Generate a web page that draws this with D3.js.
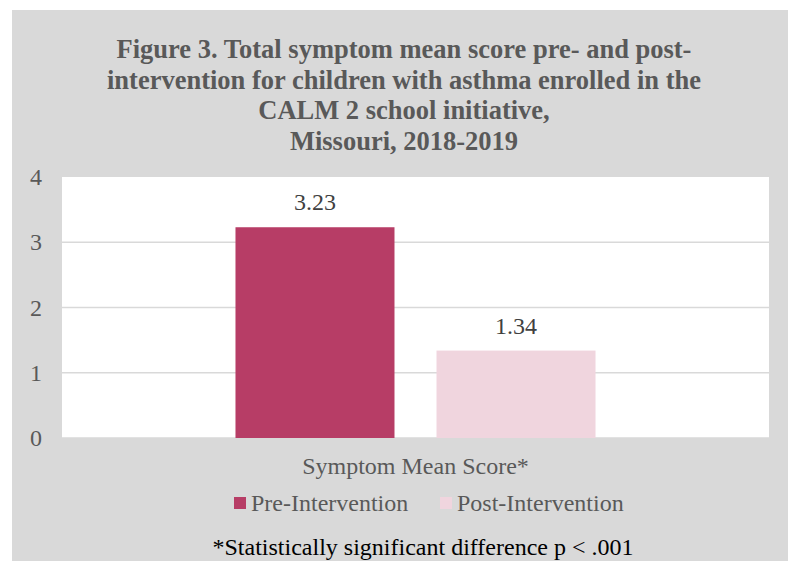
<!DOCTYPE html>
<html>
<head>
<meta charset="utf-8">
<script src="https://cdnjs.cloudflare.com/ajax/libs/d3/7.8.5/d3.min.js"></script>
<style>
  html, body { margin: 0; padding: 0; background: #fff; }
  text { font-family: "Liberation Serif", "Times New Roman", serif; }
</style>
</head>
<body>
<div id="chart"></div>
<script>
// chart data
var titleLines = ["Figure 3. Total symptom mean score pre- and post-",
                  "intervention for children with asthma enrolled in the",
                  "CALM 2 school initiative,",
                  "Missouri, 2018-2019"];
var category = "Symptom Mean Score*";
var series = ["Pre-Intervention", "Post-Intervention"];
var values = [3.23, 1.34];
var colors = ["#b73d66", "#f0d5de"];
var yTicks = [0, 1, 2, 3, 4];
var footnote = "*Statistically significant difference p < .001";

var width = 788, height = 561;
var margin = {top: 177, right: 19, bottom: 123, left: 62};

var svg = d3.select("#chart").append("svg")
    .attr("width", width)
    .attr("height", height);

// grey chart frame
svg.append("rect")
    .attr("x", 12).attr("y", 10)
    .attr("width", width - 12).attr("height", height - 10)
    .style("fill", "#d9d9d9");

var yScale = d3.scaleLinear()
    .domain([0, 4])
    .range([height - margin.bottom, margin.top]);

var xScale = d3.scaleBand()
    .domain(series)
    .range([margin.left, width - margin.right])
    .paddingInner(0.209)
    .paddingOuter(0.863);

// plot area
svg.append("rect")
    .attr("x", margin.left).attr("y", margin.top)
    .attr("width", width - margin.left - margin.right)
    .attr("height", height - margin.top - margin.bottom)
    .style("fill", "#fff");

svg.selectAll(".grid")
    .data(yTicks.slice(0, 4))
   .enter()
    .append("line")
    .attr("class", "grid")
    .attr("x1", margin.left)
    .attr("x2", width - margin.right)
    .attr("y1", function(d) { return yScale(d); })
    .attr("y2", function(d) { return yScale(d); })
    .style("stroke", "#d9d9d9")
    .style("stroke-width", 1.5);

var yAxis = d3.axisLeft(yScale)
    .tickValues(yTicks)
    .tickSize(0)
    .tickPadding(20)
    .tickFormat(d3.format("d"));

svg.append("g")
    .attr("class", "y axis")
    .attr("transform", "translate(" + margin.left + ",0)")
    .call(yAxis);

svg.select(".y.axis path").remove();
svg.select(".y.axis")
    .selectAll("text")
    .style("fill", "#595959")
    .style("font-size", "24px")
    .style("font-family", "Liberation Serif");

svg.selectAll(".bar")
    .data(values)
   .enter()
    .append("rect")
    .attr("class", "bar")
    .attr("x", function(d, i) { return xScale(series[i]); })
    .attr("width", xScale.bandwidth())
    .attr("y", function(d) { return yScale(d); })
    .attr("height", function(d) { return yScale(0) - yScale(d); })
    .style("fill", function(d, i) { return colors[i]; });

svg.selectAll(".bar-label")
    .data(values)
   .enter()
    .append("text")
    .attr("class", "bar-label")
    .attr("text-anchor", "middle")
    .attr("x", function(d, i) { return xScale(series[i]) + xScale.bandwidth() / 2; })
    .attr("y", function(d) { return yScale(d) - 17; })
    .text(function(d) { return d3.format(".2f")(d); })
    .style("fill", "#404040")
    .style("font-size", "24px");

// title
svg.append("g")
    .selectAll("text")
    .data(titleLines)
   .enter()
    .append("text")
    .attr("text-anchor", "middle")
    .attr("x", 404)
    .attr("y", function(d, i) { return 58 + i * 30.5; })
    .text(function(d) { return d; })
    .style("fill", "#595959")
    .style("font-size", "26.5px")
    .style("font-weight", "bold");

// category label
var plotMid = (margin.left + width - margin.right) / 2;
svg.append("text")
    .attr("text-anchor", "middle")
    .attr("x", plotMid)
    .attr("y", 474)
    .text(category)
    .style("fill", "#595959")
    .style("font-size", "24px");

// legend
var legendX = [234, 440];
var legend = svg.selectAll(".legend")
    .data(series)
   .enter()
    .append("g")
    .attr("class", "legend")
    .attr("transform", function(d, i) { return "translate(" + legendX[i] + ",503)"; });

legend.append("rect")
    .attr("x", 0).attr("y", -6)
    .attr("width", 12).attr("height", 12)
    .style("fill", function(d, i) { return colors[i]; });

legend.append("text")
    .attr("x", 17)
    .attr("y", 8)
    .text(function(d) { return d; })
    .style("fill", "#595959")
    .style("font-size", "24px");

// footnote
svg.append("text")
    .attr("text-anchor", "middle")
    .attr("x", 423)
    .attr("y", 555)
    .text(footnote)
    .style("fill", "#000")
    .style("font-size", "24px");
</script>
</body>
</html>
